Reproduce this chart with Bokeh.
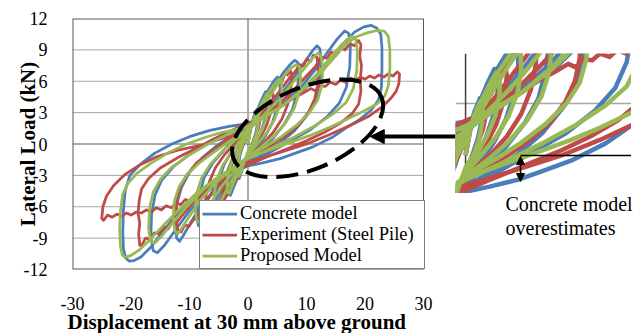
from bokeh.plotting import figure
from bokeh.layouts import row, column
from bokeh.models import (Range1d, FixedTicker, Span, Legend, LegendItem,
                          Arrow, NormalHead, Label, Spacer, Title)
from bokeh.embed import file_html
from bokeh.resources import INLINE

# Lateral load (kN) against displacement (mm), sampled along each cyclic path.
concrete_xy = [
    (0, 0), (0.4, 1.4), (0.9, 2.5), (1.5, 3.3), (1.75, 3.1), (1.7, 2.1), (1.3, 1.0), (0.7, 0.0), (0, -0.9),
    (-0.7, -2.0), (-1.2, -2.8), (-1.5, -3.3), (-1.75, -3.1), (-1.7, -2.1), (-1.3, -0.9), (-0.7, 0.1), (0, 0.9),
    (0.6, 1.8), (1.4, 3.0), (2.3, 4.2), (3.0, 5.0), (3.35, 4.8), (3.35, 3.7), (2.9, 2.3), (2.1, 1.0), (1.1, -0.2),
    (0, -1.2), (-1.2, -2.5), (-2.2, -3.8), (-3.0, -4.9), (-3.35, -4.8), (-3.35, -3.6), (-2.9, -2.2), (-2.0, -0.9),
    (-1.0, 0.3), (0, 1.2),
    (1.0, 2.4), (2.2, 3.8), (3.4, 5.1), (4.4, 6.0), (5.0, 6.4), (5.45, 6.2), (5.5, 5.1), (5.1, 3.6), (4.2, 2.1),
    (3.0, 0.8), (1.5, -0.4), (0, -1.4), (-1.6, -2.7), (-3.0, -4.1), (-4.2, -5.5), (-5.0, -6.4), (-5.45, -6.2),
    (-5.5, -5.0), (-5.0, -3.5), (-4.1, -2.0), (-2.8, -0.7), (-1.4, 0.5), (0, 1.4),
    (1.5, 2.6), (3.0, 4.0), (4.5, 5.5), (6.0, 6.8), (7.2, 7.6), (8.0, 8.0), (8.5, 7.8), (8.7, 6.7), (8.4, 5.0),
    (7.6, 3.3), (6.2, 1.9), (4.2, 0.5), (2.0, -0.7), (0, -1.6), (-2.2, -2.8), (-4.2, -4.2), (-6.0, -5.8),
    (-7.3, -7.2), (-8.0, -7.9), (-8.5, -7.8), (-8.7, -6.6), (-8.3, -4.9), (-7.5, -3.2), (-6.0, -1.8), (-4.0, -0.5),
    (-2.0, 0.7), (0, 1.6),
    (2.0, 2.5), (4.0, 3.7), (6.0, 5.0), (8.0, 6.5), (9.8, 7.9), (11.0, 8.9), (11.8, 9.4), (12.3, 9.1), (12.5, 7.8),
    (12.3, 6.0), (11.6, 4.3), (10.2, 2.8), (8.0, 1.3), (5.5, 0.1), (2.8, -0.9), (0, -1.8), (-2.8, -2.9),
    (-5.5, -4.2), (-8.0, -5.9), (-9.8, -7.5), (-11.0, -8.7), (-11.7, -9.3), (-12.2, -9.0), (-12.4, -7.6),
    (-12.2, -5.8), (-11.4, -4.2), (-10.0, -2.7), (-7.8, -1.3), (-5.2, -0.1), (-2.5, 0.9), (0, 1.8),
    (3.0, 2.7), (6.0, 3.9), (9.0, 5.4), (11.5, 7.1), (13.5, 8.7), (15.2, 10.0), (16.5, 10.8), (17.2, 10.6),
    (17.5, 9.4), (17.4, 7.4), (16.8, 5.4), (15.6, 3.9), (13.5, 2.6), (10.5, 1.3), (7.0, 0.2), (3.5, -0.9),
    (0, -1.9), (-3.5, -3.1), (-7.0, -4.6), (-10.0, -6.4), (-12.5, -8.3), (-14.3, -9.7), (-15.5, -10.4),
    (-16.2, -10.2), (-16.6, -8.9), (-16.5, -6.8), (-15.9, -4.9), (-14.8, -3.5), (-12.8, -2.2), (-10.0, -1.0),
    (-6.5, 0.3), (-3.0, 1.2), (0, 1.9),
    (3.0, 2.7), (6.0, 3.7), (9.0, 4.9), (12.0, 6.5), (14.5, 8.2), (16.5, 9.7), (18.2, 10.7), (19.8, 11.2),
    (21.0, 11.35), (22.0, 11.1), (22.7, 10.5), (22.9, 9.2), (22.9, 7.2), (22.8, 5.4), (22.3, 4.2), (21.0, 3.2),
    (19.0, 2.3), (17.2, 1.7), (14.6, 0.7), (11.0, -0.3), (8.0, -0.9), (5.5, -1.4), (2.5, -1.8), (0, -2.1),
    (-3.0, -2.8), (-6.0, -3.8), (-9.0, -5.0), (-12.0, -6.6), (-14.5, -8.3), (-16.5, -9.8), (-18.3, -10.8),
    (-19.5, -11.15), (-20.3, -11.2), (-20.9, -10.9), (-21.3, -10.0), (-21.4, -8.4), (-21.3, -6.4), (-21.0, -4.5),
    (-20.2, -3.0), (-18.5, -2.0), (-16.0, -0.9), (-13.0, 0.0), (-10.0, 0.7), (-6.5, 1.3), (-3.0, 1.7), (0, 1.95),
]

experiment_xy = [
    (0, 0), (0.5, 1.5), (1.1, 2.5), (1.7, 3.1), (2.1, 3.4), (2.2, 2.6), (1.8, 1.5), (1.0, 0.3), (0, -0.9),
    (-0.8, -1.9), (-1.5, -2.8), (-2.0, -3.4), (-2.2, -2.7), (-1.8, -1.5), (-1.0, -0.3), (0, 0.9),
    (0.8, 2.0), (1.8, 3.2), (2.8, 4.3), (3.6, 5.0), (4.1, 5.3), (4.3, 4.6), (4.0, 3.2), (3.2, 1.8), (2.0, 0.5),
    (0.8, -0.5), (0, -1.1), (-1.0, -2.2), (-2.0, -3.3), (-3.0, -4.4), (-3.8, -5.1), (-4.2, -5.3), (-4.3, -4.4),
    (-3.8, -3.0), (-2.8, -1.6), (-1.6, -0.3), (0, 1.0),
    (1.2, 2.2), (2.5, 3.4), (3.6, 4.6), (4.6, 5.5), (5.3, 6.2), (5.8, 6.0), (6.3, 6.7), (6.8, 6.6), (7.2, 7.1),
    (7.5, 6.5), (7.3, 5.2), (6.8, 3.8), (5.8, 2.4), (4.3, 1.1), (2.5, 0.0), (0, -1.2), (-1.5, -2.4), (-3.0, -3.6),
    (-4.2, -4.7), (-5.2, -5.7), (-5.9, -6.2), (-6.4, -6.8), (-6.9, -6.6), (-7.3, -7.1), (-7.5, -6.4), (-7.2, -5.0),
    (-6.6, -3.6), (-5.6, -2.3), (-4.0, -1.0), (-2.0, 0.2), (0, 1.2),
    (1.5, 2.3), (3.0, 3.3), (4.5, 4.4), (6.0, 5.5), (7.2, 6.4), (8.2, 7.0), (8.8, 7.6), (9.5, 7.5), (10.0, 8.1),
    (10.7, 7.9), (11.2, 8.5), (11.8, 8.3), (12.0, 7.1), (11.9, 5.6), (11.4, 4.3), (10.4, 3.1), (8.8, 1.9),
    (6.5, 0.8), (3.8, -0.2), (0, -1.3), (-2.0, -2.3), (-4.0, -3.4), (-6.0, -4.6), (-7.5, -5.8), (-8.7, -6.9),
    (-9.4, -7.3), (-10.1, -7.9), (-10.8, -7.7), (-11.4, -8.4), (-12.0, -8.2), (-12.3, -7.0), (-12.2, -5.5),
    (-11.6, -4.2), (-10.5, -3.0), (-8.8, -1.8), (-6.3, -0.7), (-3.5, 0.4), (0, 1.4),
    (2.0, 2.3), (4.0, 3.2), (6.0, 4.2), (8.0, 5.3), (10.0, 6.5), (11.5, 7.4), (12.5, 8.3), (13.5, 8.2),
    (14.2, 8.8), (15.0, 8.6), (15.8, 9.2), (16.6, 9.0), (17.4, 9.6), (18.2, 9.4), (18.9, 9.9), (19.3, 9.5),
    (19.1, 8.4), (19.4, 7.5), (19.2, 6.2), (19.3, 5.0), (18.9, 3.8), (17.8, 2.9), (15.8, 2.0), (13.0, 1.1),
    (10.0, 0.3), (6.5, -0.5), (3.0, -1.3), (0, -2.0), (-3.0, -2.8), (-5.5, -3.7), (-8.0, -4.8), (-10.0, -6.0),
    (-11.5, -7.0), (-12.3, -7.6), (-12.9, -7.4), (-13.6, -8.1), (-14.4, -7.9), (-15.2, -8.6), (-16.0, -8.5),
    (-16.8, -9.1), (-17.5, -9.0), (-18.1, -9.6), (-18.5, -9.7), (-18.7, -8.6), (-18.5, -7.6), (-18.8, -6.6),
    (-18.6, -5.4), (-18.2, -4.3), (-17.0, -3.3), (-15.0, -2.3), (-12.0, -1.3), (-8.5, -0.3), (-5.0, 0.7),
    (-2.0, 1.5), (0, 2.0),
    (2.5, 2.6), (5.0, 3.4), (7.5, 4.3), (9.5, 4.9), (10.7, 5.3), (11.5, 5.1), (12.3, 5.6), (13.2, 5.5),
    (14.0, 5.9), (15.0, 5.7), (15.8, 6.1), (16.7, 5.9), (17.5, 6.3), (18.4, 6.1), (19.2, 6.4), (20.0, 6.2),
    (20.8, 6.5), (21.6, 6.3), (22.4, 6.6), (23.2, 6.4), (24.0, 6.7), (24.8, 6.5), (25.5, 6.9), (25.9, 6.7),
    (25.8, 5.8), (25.3, 5.0), (24.3, 4.3), (22.8, 3.5), (20.5, 2.6), (17.5, 1.8), (14.0, 0.9), (10.0, 0.0),
    (6.0, -0.7), (2.0, -1.4), (0, -1.7), (-2.5, -2.5), (-5.0, -3.4), (-7.0, -4.3), (-8.1, -5.1), (-9.0, -4.9),
    (-9.8, -5.5), (-10.7, -5.3), (-11.5, -5.8), (-12.3, -5.6), (-13.1, -6.1), (-14.0, -5.9), (-14.8, -6.3),
    (-15.7, -6.1), (-16.5, -6.5), (-17.4, -6.3), (-18.2, -6.6), (-19.1, -6.5), (-20.0, -6.8), (-20.8, -6.6),
    (-21.6, -6.9), (-22.4, -6.7), (-23.2, -7.0), (-24.0, -6.8), (-24.7, -7.3), (-25.0, -7.1), (-24.8, -6.0),
    (-24.2, -5.0), (-23.0, -4.0), (-21.0, -2.9), (-18.5, -2.0), (-15.5, -1.2), (-12.0, -0.6), (-8.0, -0.1),
    (-4.0, 0.6), (0, 1.2),
]

proposed_xy = [
    (0, 0), (0.4, 1.3), (0.9, 2.3), (1.5, 3.1), (1.8, 2.9), (1.75, 1.9), (1.4, 0.9), (0.8, 0.0), (0, -0.7),
    (-0.7, -1.8), (-1.2, -2.6), (-1.5, -3.1), (-1.8, -2.9), (-1.75, -1.9), (-1.4, -0.8), (-0.8, 0.1), (0, 0.8),
    (0.6, 1.8), (1.5, 3.0), (2.4, 4.0), (3.2, 4.8), (3.55, 4.6), (3.55, 3.5), (3.1, 2.3), (2.3, 1.2), (1.2, 0.1),
    (0, -0.9), (-1.2, -2.2), (-2.3, -3.5), (-3.2, -4.7), (-3.55, -4.6), (-3.55, -3.4), (-3.1, -2.2), (-2.2, -1.0),
    (-1.1, 0.1), (0, 1.0),
    (1.0, 2.4), (2.3, 3.7), (3.5, 4.9), (4.6, 5.8), (5.3, 6.2), (5.75, 6.0), (5.8, 4.9), (5.4, 3.6), (4.5, 2.3),
    (3.2, 1.1), (1.6, 0.0), (0, -1.0), (-1.6, -2.4), (-3.1, -3.8), (-4.4, -5.2), (-5.3, -6.1), (-5.75, -6.0),
    (-5.8, -4.8), (-5.3, -3.4), (-4.4, -2.1), (-3.0, -0.9), (-1.5, 0.2), (0, 1.1),
    (1.5, 2.5), (3.0, 3.9), (4.6, 5.3), (6.1, 6.5), (7.4, 7.3), (8.3, 7.6), (8.8, 7.4), (9.0, 6.3), (8.7, 4.8),
    (7.9, 3.4), (6.5, 2.1), (4.5, 0.8), (2.2, -0.3), (0, -1.2), (-2.2, -2.5), (-4.3, -3.9), (-6.1, -5.4),
    (-7.5, -6.8), (-8.3, -7.5), (-8.8, -7.3), (-9.0, -6.2), (-8.7, -4.6), (-7.9, -3.2), (-6.4, -1.9), (-4.4, -0.7),
    (-2.1, 0.4), (0, 1.3),
    (2.0, 2.4), (4.0, 3.5), (6.0, 4.7), (8.0, 6.1), (9.9, 7.4), (11.2, 8.3), (12.0, 8.7), (12.5, 8.4), (12.8, 7.2),
    (12.6, 5.6), (11.9, 4.2), (10.5, 3.0), (8.3, 1.8), (5.7, 0.7), (2.9, -0.3), (0, -1.2), (-2.9, -2.5),
    (-5.7, -3.8), (-8.2, -5.4), (-10.0, -6.9), (-11.3, -8.0), (-12.0, -8.6), (-12.5, -8.3), (-12.8, -7.1),
    (-12.6, -5.5), (-11.8, -4.1), (-10.4, -2.9), (-8.1, -1.7), (-5.4, -0.6), (-2.6, 0.5), (0, 1.4),
    (3.0, 2.6), (6.0, 3.7), (9.0, 5.1), (11.8, 6.7), (14.0, 8.2), (16.0, 9.5), (17.7, 10.3), (18.4, 10.1),
    (18.7, 8.9), (18.6, 7.0), (18.0, 5.3), (16.8, 4.0), (14.6, 2.9), (11.6, 1.8), (8.0, 0.7), (4.0, -0.4),
    (0, -1.4), (-4.0, -2.8), (-7.5, -4.3), (-10.5, -6.0), (-13.0, -7.6), (-14.9, -8.9), (-16.0, -9.5),
    (-16.7, -9.3), (-17.0, -8.0), (-16.8, -6.1), (-16.2, -4.6), (-15.0, -3.4), (-13.0, -2.2), (-10.2, -1.1),
    (-6.8, 0.0), (-3.2, 1.0), (0, 1.7),
    (3.0, 2.7), (6.0, 3.7), (9.0, 5.0), (12.0, 6.6), (14.5, 8.1), (16.5, 9.4), (18.3, 10.2), (20.2, 10.6),
    (22.0, 10.85), (23.3, 10.8), (24.0, 10.3), (24.25, 9.0), (24.25, 7.2), (24.0, 5.6), (23.4, 4.6), (22.2, 3.9),
    (20.0, 3.2), (17.0, 2.4), (14.0, 1.6), (11.0, 0.9), (8.0, 0.3), (5.0, -0.3), (2.0, -0.9), (0, -1.3),
    (-3.0, -2.4), (-6.0, -3.5), (-9.0, -4.8), (-12.0, -6.4), (-14.5, -7.8), (-16.5, -9.0), (-18.5, -10.1),
    (-20.0, -10.65), (-21.0, -10.85), (-21.5, -10.6), (-21.8, -9.8), (-21.95, -8.2), (-21.8, -6.4), (-21.4, -4.8),
    (-20.6, -3.8), (-19.0, -2.8), (-16.5, -1.8), (-13.5, -0.8), (-10.5, 0.0), (-7.5, 0.6), (-4.5, 1.1),
    (-2.0, 1.4), (0, 1.6),
]

series_names = ["Concrete model", "Experiment (Steel Pile)", "Proposed Model"]
series_colors = ["#4A7EBB", "#BE4B48", "#98B954"]

x_lo, x_hi = -30, 30
y_lo, y_hi = -12, 12
x_ticks = [-30, -20, -10, 0, 10, 20, 30]
x_tick_labels = ["-30", "-20", "-10", "0", "10", "20", "30"]
y_ticks = [-12, -9, -6, -3, 0, 3, 6, 9, 12]
y_tick_labels = ["-12", "-9", "-6", "-3", "0", "3", "6", "9", "12"]

# highlighted region (dashed ellipse) and the magnified window shown beside the chart
ring_center = (10.2, 1.5)
ring_size = (27.4, 7.8)
ring_angle = 0.40
pointer_y = 0.71
pointer_tip = 20.9
zoom_x = (-1.05, 17.3)
zoom_y = (-2.2, 5.9)
gap_x = 5.73
gap_y = (-0.06, -1.5)
note_lines = ["Concrete model", "overestimates"]

SERIF = "Liberation Serif"
series = [concrete_xy, experiment_xy, proposed_xy]

# The chart box is 351 px wide; the drawing area runs 32 px further right so the
# pointer can reach the magnified window.
PLOT_W, BOX_W, EXTRA_W = 455, 351, 32
x_edge = x_hi + EXTRA_W * (x_hi - x_lo) / BOX_W


def bare(fig):
    fig.outline_line_color = None
    fig.background_fill_color = "white"
    fig.border_fill_color = "white"
    fig.grid.visible = False
    return fig


# ---- main chart ----
p = figure(width=PLOT_W, height=333, x_range=Range1d(x_lo, x_edge), y_range=Range1d(y_lo, y_hi),
           output_backend="svg", toolbar_location=None, frame_align=False,
           min_border_left=72, min_border_right=0, min_border_top=18, min_border_bottom=62)
p.outline_line_color = None
p.background_fill_color = "white"
p.border_fill_color = "white"
p.xgrid.visible = False
p.ygrid.visible = False

for ax in (p.xaxis[0], p.yaxis[0]):
    ax.axis_line_color = None
    ax.major_tick_line_color = None
    ax.minor_tick_line_color = None
    ax.major_label_text_font = SERIF
    ax.major_label_text_font_size = "18px"
    ax.major_label_text_color = "black"

p.xaxis.ticker = FixedTicker(ticks=x_ticks)
p.xaxis.major_label_overrides = dict(zip(x_ticks, x_tick_labels))
p.xaxis.major_label_standoff = 21
p.add_layout(Title(text="Displacement at 30 mm above ground", align="left", offset=-5,
                   vertical_align="top", standoff=-5,
                   text_font=SERIF, text_font_size="21px", text_font_style="bold",
                   text_color="black"), "below")

p.yaxis.ticker = FixedTicker(ticks=y_ticks)
p.yaxis.major_label_overrides = dict(zip(y_ticks, y_tick_labels))
p.yaxis.major_label_standoff = 19
p.yaxis.axis_label = "Lateral Load (kN)"
p.yaxis.axis_label_text_font = SERIF
p.yaxis.axis_label_text_font_style = "bold"
p.yaxis.axis_label_text_color = "black"
p.yaxis.axis_label_text_font_size = "21px"
p.yaxis.axis_label_standoff = -19

# horizontal gridlines, axis lines and the chart box
grid_levels = [t for t in y_ticks if t not in (0, y_lo, y_hi)]
p.segment(x0=x_lo, x1=x_hi, y0=grid_levels, y1=grid_levels, line_color="#a6a6a6", line_width=1)
p.segment(x0=x_lo, x1=x_hi, y0=0, y1=0, line_color="#595959", line_width=1)
p.add_layout(Span(location=0, dimension="height", line_color="#595959", line_width=1, level="underlay"))
p.segment(x0=[x_lo, x_lo, x_lo, x_hi], y0=[y_lo, y_hi, y_lo, y_lo],
          x1=[x_hi, x_hi, x_lo, x_hi], y1=[y_lo, y_hi, y_hi, y_hi],
          line_color="#595959", line_width=[2, 2, 2, 1])

renderers = []
for pts, color in zip(series, series_colors):
    xs = [pt[0] for pt in pts]
    ys = [pt[1] for pt in pts]
    renderers.append(p.line(xs, ys, line_color=color, line_width=2.75, line_join="round"))

p.ellipse(x=[ring_center[0]], y=[ring_center[1]], width=ring_size[0], height=ring_size[1],
          angle=ring_angle, fill_color=None, line_color="black", line_width=4, line_dash="22 9")

p.add_layout(Arrow(end=NormalHead(size=14, fill_color="black", line_color="black"),
                   x_start=x_edge, y_start=pointer_y, x_end=pointer_tip, y_end=pointer_y,
                   line_color="black", line_width=4))

LEG_W, LEG_PAD, LEG_GLYPH, LEG_GAP = 224, 2, 35, 3
legend = Legend(items=[LegendItem(label=n, renderers=[r]) for n, r in zip(series_names, renderers)],
                location=(BOX_W - LEG_W, 0), margin=0, padding=LEG_PAD, spacing=0,
                label_height=21, glyph_height=21, glyph_width=LEG_GLYPH, label_standoff=LEG_GAP,
                label_width=LEG_W - 2 * LEG_PAD - LEG_GLYPH - LEG_GAP,
                label_text_font=SERIF, label_text_font_size="18.5px", label_text_color="black",
                border_line_color="black", border_line_width=1,
                background_fill_color="white", background_fill_alpha=1)
p.add_layout(legend)

# ---- magnified window ----
q = bare(figure(width=176, height=140, x_range=Range1d(*zoom_x), y_range=Range1d(*zoom_y),
                output_backend="svg", toolbar_location=None, frame_align=False,
                x_axis_type=None, y_axis_type=None,
                min_border_left=0, min_border_right=0, min_border_top=0, min_border_bottom=0))
q.add_layout(Span(location=3, dimension="width", line_color="#a6a6a6", line_width=1.5, level="underlay"))
q.add_layout(Span(location=0, dimension="height", line_color="#404040", line_width=1.5, level="underlay"))

for pts, color in zip(series, series_colors):
    xs = [pt[0] for pt in pts]
    ys = [pt[1] for pt in pts]
    q.line(xs, ys, line_color=color, line_width=4.5, line_join="round")

q.segment(x0=[gap_x], y0=[0], x1=[zoom_x[1]], y1=[0], line_color="black", line_width=1.5)
q.add_layout(Arrow(start=NormalHead(size=8, fill_color="black", line_color="black"),
                   end=NormalHead(size=8, fill_color="black", line_color="black"),
                   x_start=gap_x, y_start=gap_y[0], x_end=gap_x, y_end=gap_y[1],
                   line_color="black", line_width=1.5))

# ---- note under the magnified window ----
n = bare(figure(width=187, height=140, x_range=Range1d(0, 187), y_range=Range1d(0, 140),
                output_backend="svg", toolbar_location=None, frame_align=False,
                x_axis_type=None, y_axis_type=None,
                min_border_left=0, min_border_right=0, min_border_top=0, min_border_bottom=0))
for txt, yv in zip(note_lines, [130, 106]):
    n.add_layout(Label(x=50, y=yv, text=txt, text_font=SERIF, text_font_size="20px",
                       text_color="black", text_baseline="middle", text_align="left"))

side = column(Spacer(width=187, height=53), q, n, spacing=0)
layout = row(p, side, spacing=0)
open("out.html", "w").write(file_html(layout, INLINE))
